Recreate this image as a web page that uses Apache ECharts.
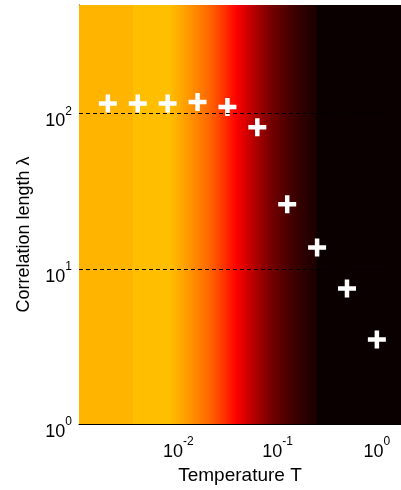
<!DOCTYPE html>
<html><head><meta charset="utf-8">
<script src="https://cdn.jsdelivr.net/npm/echarts@6/dist/echarts.min.js"></script>
<style>html,body{margin:0;padding:0;background:#fff}#c{width:401px;height:490px}</style>
</head><body><div id="c"></div>
<script>
// Data points (white plus markers)
const temperatures = [0.001953125, 0.00390625, 0.0078125, 0.015625, 0.03125, 0.0625, 0.125, 0.25, 0.5, 1];
const correlationLength = [116, 116, 116, 118.8, 110.3, 81.6, 26.0, 13.7, 7.46, 3.50];

// Axis ranges and ticks
const xRange = [0.001, 1.75];
const yRange = [1, 500];
const xTickExponents = [-2, -1, 0];
const yTickExponents = [0, 1, 2];
const dashedGridY = [10, 100];

// Background colour map along temperature
const bgStopT = [0.001, 0.0035, 0.0035, 0.00824, 0.01312, 0.02085, 0.0295, 0.0381, 0.0591, 0.0837, 0.133, 0.189, 0.247, 0.247, 1.75];
const bgStopColor = ['#FFB400','#FFB400','#FFBE00','#FFBE00','#FF9400','#FF6400','#FF2E00','#FF0000','#B00000','#780000','#450000','#2A0000','#1C0000','#0A0000','#0A0000'];

const FONT = 'Liberation Sans, Arial, Helvetica, sans-serif';
const bgSegments = bgStopT.slice(0, -1).map((t, i) => [t, bgStopT[i + 1], i]);
const points = temperatures.map((t, i) => [t, correlationLength[i]]);

function powLabel(allowed) {
  return function (v) {
    const e = Math.log10(v);
    const r = Math.round(e);
    if (Math.abs(e - r) > 1e-6 || allowed.indexOf(r) < 0) return '';
    return '{b|10}{s|' + r + '}';
  };
}
const richX = {
  b: { fontSize: 18, color: '#000', fontFamily: FONT },
  s: { fontSize: 12, color: '#000', fontFamily: FONT, padding: [0, 0, 20, 0] }
};
const richY = {
  b: { fontSize: 18, color: '#000', fontFamily: FONT, padding: [16, 0, 0, 0] },
  s: { fontSize: 12, color: '#000', fontFamily: FONT, padding: [0, 0, 4, 0] }
};
const plusPath = 'path://M0,6.75H6.75V0H11.25V6.75H18V11.25H11.25V18H6.75V11.25H0Z';

const chart = echarts.init(document.getElementById('c'), null, { renderer: 'canvas' });
chart.setOption({
  animation: false,
  backgroundColor: '#fff',
  grid: { left: 79, right: 0, top: 5, bottom: 66, containLabel: false, outerBoundsMode: 'none' },
  xAxis: [{
    type: 'log', logBase: 10, min: xRange[0], max: xRange[1], position: 'bottom',
    axisLine: { onZero: false, lineStyle: { color: '#000', width: 1 } },
    axisTick: { inside: true, length: 4, lineStyle: { color: '#000' } },
    minorTick: { show: false },
    axisLabel: { formatter: powLabel(xTickExponents), margin: 12, rich: richX },
    splitLine: { show: false },
    name: 'Temperature T', nameLocation: 'middle', nameGap: 42,
    nameTextStyle: { fontSize: 19, color: '#000', fontFamily: FONT }
  }, {
    type: 'log', logBase: 10, min: xRange[0], max: xRange[1], position: 'top',
    axisLine: { onZero: false, lineStyle: { color: '#888', width: 1 } },
    axisTick: { inside: true, length: 4, lineStyle: { color: '#222' } },
    axisLabel: { show: false }, splitLine: { show: false }
  }],
  yAxis: {
    type: 'log', logBase: 10, min: yRange[0], max: yRange[1],
    axisLine: { onZero: false, lineStyle: { color: '#000', width: 1 } },
    axisTick: { show: false },
    axisLabel: { formatter: powLabel(yTickExponents), margin: 7, rich: richY },
    splitLine: { show: false },
    name: 'Correlation length λ', nameLocation: 'middle', nameGap: 46,
    nameTextStyle: { fontSize: 18, color: '#000', fontFamily: FONT, padding: [0, 40, 0, 0] }
  },
  series: [{
    type: 'custom', z: 1, silent: true, clip: true,
    data: bgSegments,
    encode: { x: [0, 1] },
    renderItem: function (params, api) {
      const i = api.value(2);
      const p0 = api.coord([api.value(0), yRange[1]]);
      const p1 = api.coord([api.value(1), yRange[0]]);
      return {
        type: 'rect',
        shape: { x: p0[0], y: p0[1], width: Math.max(0, p1[0] - p0[0]) + 0.6, height: p1[1] - p0[1] },
        style: { fill: new echarts.graphic.LinearGradient(0, 0, 1, 0, [
          { offset: 0, color: bgStopColor[i] }, { offset: 1, color: bgStopColor[i + 1] }]) }
      };
    }
  }, {
    type: 'line', z: 2, data: [], silent: true,
    markLine: {
      silent: true, symbol: 'none', label: { show: false },
      lineStyle: { color: '#000', type: [4, 3], width: 1 },
      data: dashedGridY.map(v => ({ yAxis: v }))
    }
  }, {
    type: 'scatter', z: 3, data: points, symbol: plusPath, symbolSize: 18,
    itemStyle: { color: '#fff', opacity: 1 }
  }]
});
</script></body></html>
